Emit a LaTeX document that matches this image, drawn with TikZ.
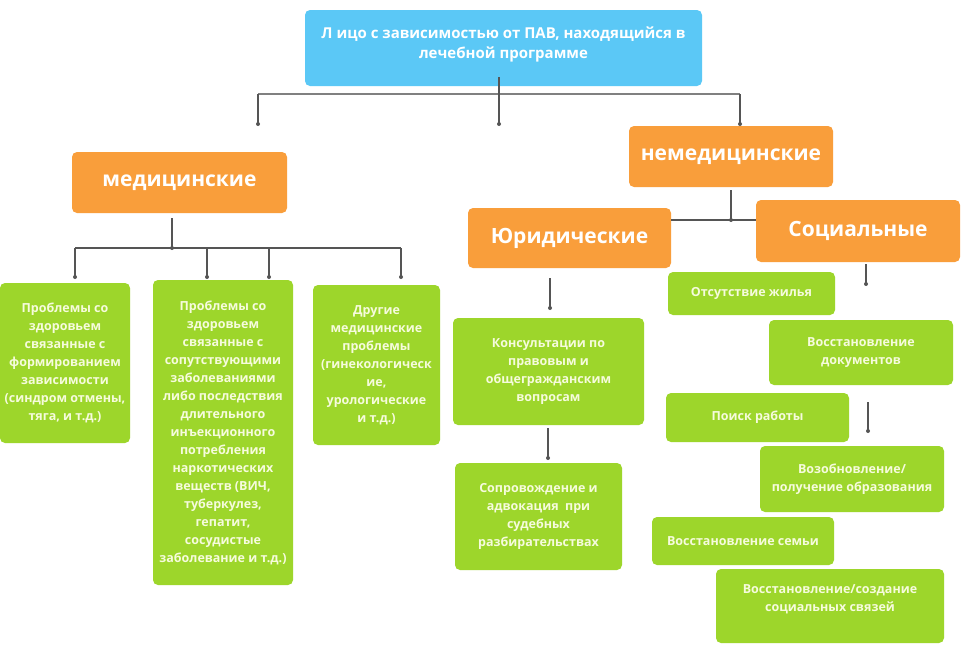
\documentclass[tikz,border=0pt]{standalone}
\usepackage{fontspec}
\setmainfont{Open Sans}
\definecolor{cblue}{HTML}{5BC8F6}
\definecolor{corange}{HTML}{F99E3B}
\definecolor{cgreen}{HTML}{9DD62B}
\definecolor{gtext}{HTML}{F6FBDD}
\definecolor{lgray}{HTML}{555555}
\begin{document}
\begin{tikzpicture}[x=1pt,y=-1pt,
  box/.style={rounded corners=5pt, align=center, inner sep=0pt, font=\bfseries},
  topbox/.style={box, fill=cblue, text=white, font=\bfseries\fontsize{15}{20}\selectfont},
  obox/.style={box, fill=corange, text=white, font=\bfseries\fontsize{21}{25}\selectfont},
  gbox/.style={box, fill=cgreen, text=gtext, font=\bfseries\fontsize{12.5}{18}\selectfont},
  conn/.style={draw=lgray, line width=1.3pt},
  bar/.style={draw=gray, line width=2pt},
  dot/.style={fill=lgray}
]
\useasboundingbox (0,0) rectangle (966,648);
\fill[white] (0,0) rectangle (966,648);

% boxes
\node[topbox, minimum width=397pt, minimum height=76pt] (top) at (503.5,48)
  {Л ицо с зависимостью от ПАВ, находящийся в\\лечебной программе\\[-10pt]};
\node[obox, minimum width=215pt, minimum height=61pt] (med) at (179.5,182.5) {медицинские};
\node[obox, minimum width=204pt, minimum height=61pt] (nemed) at (731,156.5) {немедицинские};
\node[obox, minimum width=203pt, minimum height=60pt] (jur) at (569.5,238) {Юридические};
\node[obox, minimum width=204pt, minimum height=62pt] (soc) at (858,231) {Социальные};

\node[gbox, minimum width=130pt, minimum height=160pt] (g1) at (65,363)
  {Проблемы со\\здоровьем\\связанные с\\формированием\\зависимости\\(синдром отмены,\\тяга, и т.д.)};
\node[gbox, minimum width=140pt, minimum height=305pt] (g2) at (223,432.5)
  {Проблемы со\\здоровьем\\связанные с\\сопутствующими\\заболеваниями\\либо последствия\\длительного\\инъекционного\\потребления\\наркотических\\веществ (ВИЧ,\\туберкулез,\\гепатит,\\сосудистые\\заболевание и т.д.)};
\node[gbox, minimum width=127pt, minimum height=160pt] (g3) at (376.5,365)
  {Другие\\медицинские\\проблемы\\(гинекологическ\\ие,\\урологические\\и т.д.)};

\node[gbox, minimum width=191pt, minimum height=107pt] (kons) at (548.5,371.5)
  {Консультации по\\правовым и\\общегражданским\\вопросам};
\node[gbox, minimum width=167pt, minimum height=107pt] (sopr) at (538.5,516.5)
  {Сопровождение и\\адвокация\ \ при\\судебных\\разбирательствах};

\node[gbox, minimum width=167pt, minimum height=43pt] (s1) at (751.5,293.5) {Отсутствие жилья};
\node[gbox, minimum width=184pt, minimum height=65pt] (s2) at (861,352.5) {Восстановление\\документов};
\node[gbox, minimum width=183pt, minimum height=49pt] (s3) at (757.5,417.5) {Поиск работы};
\node[gbox, minimum width=184pt, minimum height=66pt] (s4) at (852,479) {Возобновление/\\получение образования};
\node[gbox, minimum width=182pt, minimum height=48pt] (s5) at (743,541) {Восстановление семьи};
\node[gbox, minimum width=228pt, minimum height=74pt] (s6) at (830,606) {Восстановление/создание\\социальных связей\\[-2pt]};

% connector coordinates
\coordinate (t0) at (499,77);
\coordinate (tL) at (258,94);
\coordinate (tR) at (740,94);
\coordinate (tLd) at (258,124);
\coordinate (tMd) at (499,124);
\coordinate (tRd) at (740,124);

\coordinate (m0) at (172,218);
\coordinate (mj) at (172,248);
\coordinate (mA) at (75,248);
\coordinate (mB) at (207,248);
\coordinate (mC) at (269,248);
\coordinate (mD) at (401,248);
\coordinate (mAd) at (75,277);
\coordinate (mBd) at (207,277);
\coordinate (mCd) at (269,277);
\coordinate (mDd) at (401,277);

\coordinate (n0) at (731,190);
\coordinate (nj) at (731,220);

\coordinate (j0) at (550,278);
\coordinate (j1) at (550,308);
\coordinate (k0) at (548,428);
\coordinate (k1) at (548,458);
\coordinate (so0) at (866,264);
\coordinate (so1) at (866,284);
\coordinate (f0) at (868,402);
\coordinate (f1) at (868,431);

% top connectors
\draw[bar] (tL) -- (tR);
\draw[conn] (t0) -- (tMd);
\draw[conn] (tL) -- (tLd);
\draw[conn] (tR) -- (tRd);
\foreach \p in {tLd,tMd,tRd} \fill[dot] (\p) circle (2pt);

% medical connectors
\draw[conn] (m0) -- (mj);
\draw[conn] (mA) -- (mD);
\draw[conn] (mA) -- (mAd);
\draw[conn] (mB) -- (mBd);
\draw[conn] (mC) -- (mCd);
\draw[conn] (mD) -- (mDd);
\foreach \p in {mj,mAd,mBd,mCd,mDd} \fill[dot] (\p) circle (2pt);

% non-medical connectors
\draw[conn] (n0) -- (nj);
\draw[conn] (jur.east |- nj) -- (soc.west |- nj);
\fill[dot] (nj) circle (2pt);

\draw[conn] (j0) -- (j1);
\draw[conn] (k0) -- (k1);
\draw[conn] (so0) -- (so1);
\draw[conn] (f0) -- (f1);
\foreach \p in {j1,k1,so1,f1} \fill[dot] (\p) circle (2pt);
\end{tikzpicture}
\end{document}
